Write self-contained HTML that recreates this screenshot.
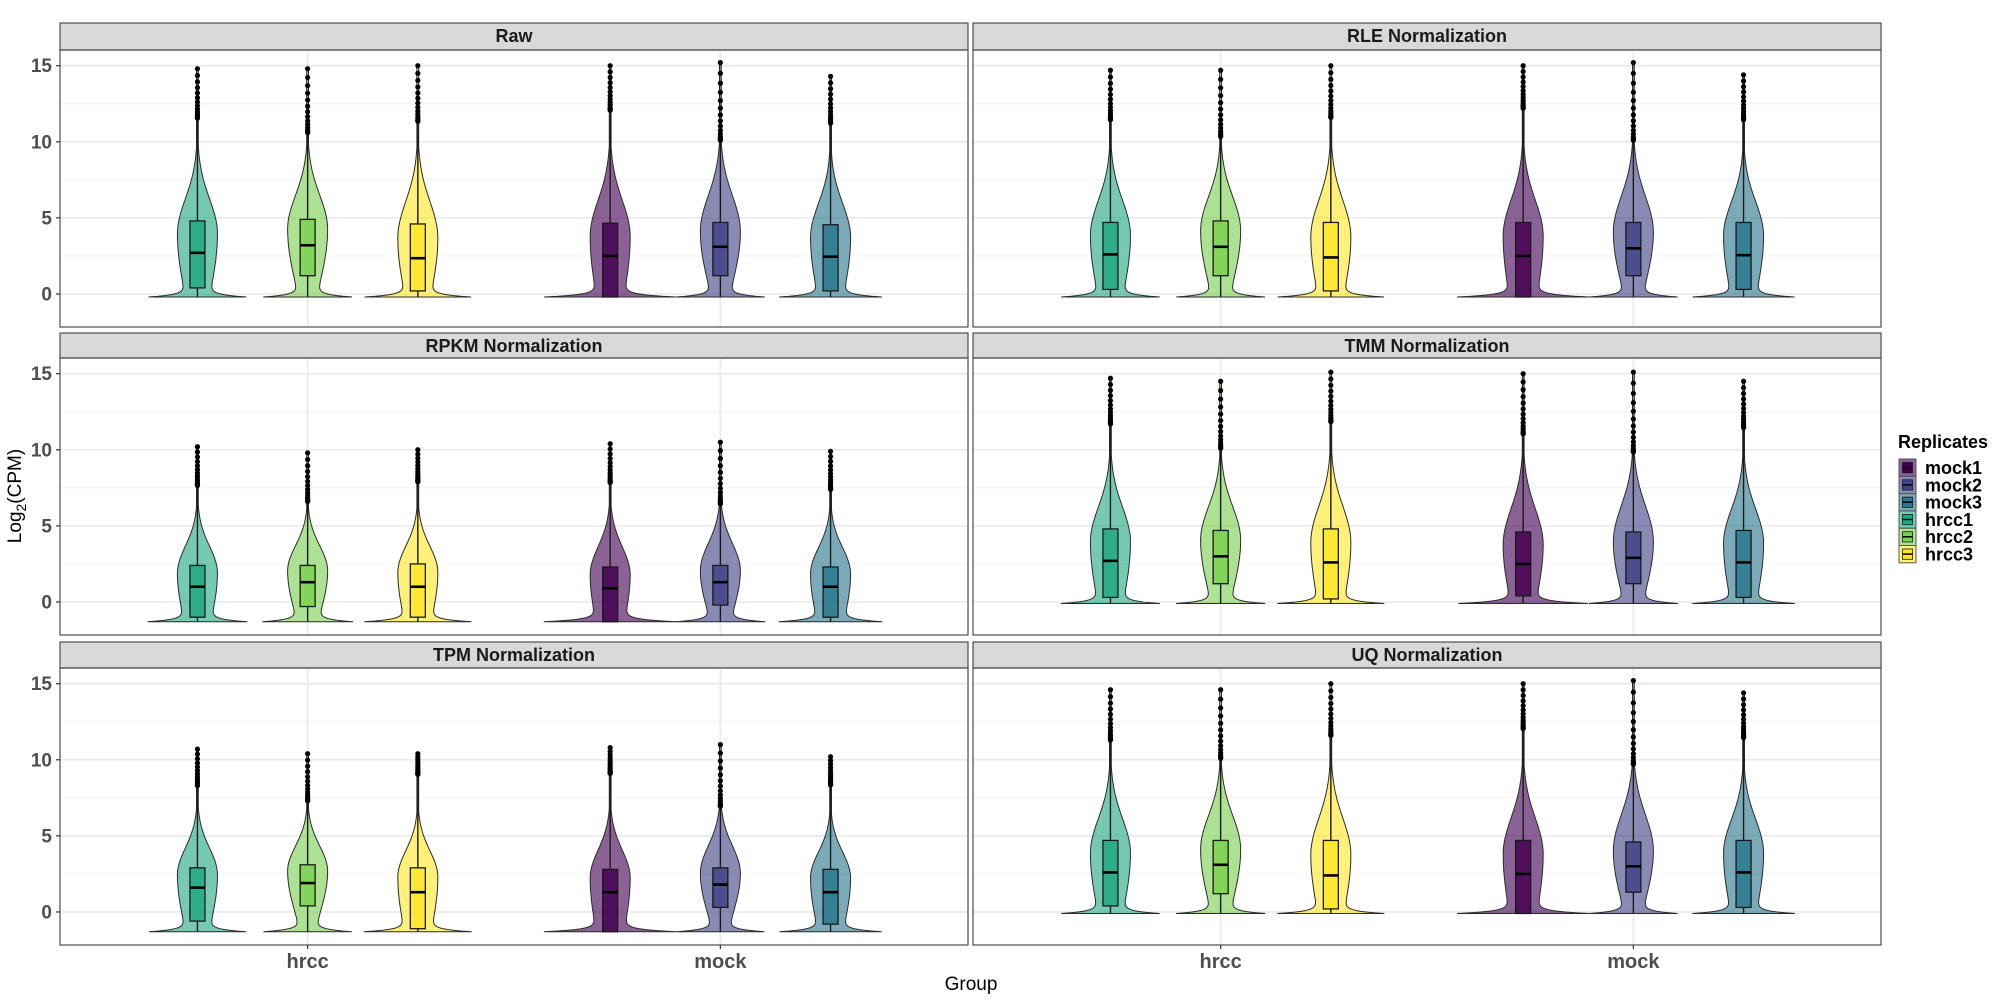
<!DOCTYPE html>
<html><head><meta charset="utf-8"><style>
html,body{margin:0;padding:0;background:#fff;}
svg{display:block;font-family:"Liberation Sans",sans-serif;}
</style></head><body>
<svg id="chart" width="2000" height="1000" viewBox="0 0 2000 1000"></svg>
<script>
// ---- data ----
const panelTitles = ["Raw","RLE Normalization","RPKM Normalization","TMM Normalization","TPM Normalization","UQ Normalization"];
const groups = ["hrcc","mock"];
const replicates = ["hrcc1","hrcc2","hrcc3","mock1","mock2","mock3"];
const repGroup = [0,0,0,1,1,1];
const repOffset = [-0.267,0,0.267,-0.267,0,0.267];
const legendOrder = ["mock1","mock2","mock3","hrcc1","hrcc2","hrcc3"];
const colors = {mock1:"#440154",mock2:"#414487",mock3:"#2A788E",hrcc1:"#22A884",hrcc2:"#7AD151",hrcc3:"#FDE725"};
const yTicks = [0,5,10,15];
const yMinor = [2.5,7.5,12.5];
// per panel floor value (min)
const floors = [-0.2,-0.2,-1.3,-0.1,-1.3,-0.1];
// per panel, per replicate: q1, median, q3, max
const q1 = [
 [0.4,1.2,0.2,-0.2,1.2,0.2],
 [0.3,1.2,0.2,-0.2,1.2,0.3],
 [-1.0,-0.3,-1.0,-1.3,-0.2,-1.0],
 [0.3,1.2,0.2,0.4,1.2,0.3],
 [-0.6,0.4,-1.1,-1.3,0.3,-0.8],
 [0.4,1.2,0.2,-0.1,1.3,0.3]];
const med = [
 [2.7,3.2,2.35,2.5,3.1,2.45],
 [2.6,3.1,2.4,2.5,3.0,2.55],
 [1.0,1.3,1.0,0.9,1.3,1.0],
 [2.7,3.0,2.6,2.5,2.9,2.6],
 [1.6,1.9,1.3,1.3,1.8,1.3],
 [2.6,3.1,2.4,2.5,3.0,2.6]];
const q3 = [
 [4.8,4.9,4.6,4.65,4.7,4.55],
 [4.7,4.8,4.7,4.7,4.7,4.7],
 [2.4,2.4,2.5,2.3,2.4,2.3],
 [4.8,4.7,4.8,4.6,4.6,4.7],
 [2.9,3.1,2.9,2.8,2.9,2.8],
 [4.7,4.7,4.7,4.7,4.6,4.7]];
const maxv = [
 [14.8,14.8,15.0,15.0,15.2,14.3],
 [14.7,14.7,15.0,15.0,15.2,14.4],
 [10.2,9.8,10.0,10.4,10.5,9.9],
 [14.7,14.5,15.1,15.0,15.1,14.5],
 [10.7,10.4,10.4,10.8,11.0,10.2],
 [14.6,14.6,15.0,15.0,15.2,14.4]];
// relative weight of the spike of values at the floor
const spike = [
 [1.0,0.95,1.1,1.42,0.95,1.05],
 [1.0,0.95,1.1,1.42,0.95,1.05],
 [1.0,0.95,1.1,1.42,0.95,1.05],
 [1.0,0.95,1.1,1.42,0.95,1.05],
 [1.0,0.95,1.1,1.42,0.95,1.05],
 [1.0,0.95,1.1,1.42,0.95,1.05]];

// ---- layout ----
const NS="http://www.w3.org/2000/svg";
const svg=document.getElementById('chart');
const colX=[[60,968],[973,1881]];
const rowStrip=[23,333,642], rowTop=[50,358,668], rowBot=[327,635,945];
const yLo=-2.17, yHi=16.03, xLo=0.4, xHi=2.6;
function mk(tag,attrs,parent){const e=document.createElementNS(NS,tag);for(const k in attrs)e.setAttribute(k,attrs[k]);(parent||svg).appendChild(e);return e;}
function yS(v,r){return rowBot[r]-(v-yLo)/(yHi-yLo)*(rowBot[r]-rowTop[r]);}
function xS(v,c){return colX[c][0]+(v-xLo)/(xHi-xLo)*(colX[c][1]-colX[c][0]);}

for(let p=0;p<6;p++){
  const r=Math.floor(p/2), c=p%2;
  const x0=colX[c][0], x1=colX[c][1];
  const g=mk('g',{});
  
  
  const st=mk('rect',{x:x0,y:rowStrip[r],width:x1-x0,height:rowTop[r]-rowStrip[r],fill:'#d9d9d9',stroke:'#4d4d4d','stroke-width':1.2},g);
  
  
  const stt=mk('text',{x:(x0+x1)/2,y:rowStrip[r]+19,'text-anchor':'middle','font-size':18,'font-weight':'bold',fill:'#1a1a1a'},g);
  stt.textContent=panelTitles[p];
  
  
  yMinor.forEach(v=>{mk('line',{x1:x0,x2:x1,y1:yS(v,r),y2:yS(v,r),stroke:'#f4f4f4','stroke-width':1.2},g);});
  yTicks.forEach(v=>{const l=mk('line',{x1:x0,x2:x1,y1:yS(v,r),y2:yS(v,r),stroke:'#ebebeb','stroke-width':1.8},g);
    });
  groups.forEach((gname,gi)=>{mk('line',{x1:xS(gi+1,c),x2:xS(gi+1,c),y1:rowTop[r],y2:rowBot[r],stroke:'#ebebeb','stroke-width':1.8},g);});
  for(let i=0;i<6;i++){
    const rep=replicates[i], col=colors[rep];
    const cx=xS(repGroup[i]+1+repOffset[i],c);
    const fl=floors[p], a=q1[p][i], m=med[p][i], b=q3[p][i], mx=maxv[p][i], sp=spike[p][i];
    const peak=(m+b)/2+0.2, sUp=(mx-peak)*0.3, sLow=(peak-a)*1.4+0.8;
    const B=20, W=37;
    const hw=v=>{
      let body = v>=peak ? Math.exp(-Math.pow((v-peak)/sUp,2)) : Math.max(Math.exp(-Math.pow((v-peak)/sLow,2)),0.45);
      let w=B*body + W*sp*Math.exp(-(v-fl)/0.16);
      return Math.max(w,0.9);
    };
    const pts=[];const vs=[];
    for(let v=fl;v<=mx;v+=0.05)vs.push(v);vs.push(mx);
    vs.forEach(v=>pts.push([cx+hw(v),yS(v,r)]));
    for(let k=vs.length-1;k>=0;k--)pts.push([cx-hw(vs[k]),yS(vs[k],r)]);
    const vg=mk('g',{},g);
    
    
    const vp=mk('path',{d:'M'+pts.map(q=>q[0].toFixed(1)+','+q[1].toFixed(1)).join('L')+'Z',fill:col,'fill-opacity':0.62,stroke:'#2b2b2b','stroke-width':1},vg);
    
    
    const iqr=b-a, wTop=Math.min(mx,b+1.5*iqr);
    mk('line',{x1:cx,x2:cx,y1:yS(wTop,r),y2:yS(b,r),stroke:'#1a1a1a','stroke-width':1.4},vg);
    mk('line',{x1:cx,x2:cx,y1:yS(a,r),y2:yS(fl,r),stroke:'#1a1a1a','stroke-width':1.4},vg);
    const bx=mk('rect',{x:cx-7.5,y:yS(b,r),width:15,height:yS(a,r)-yS(b,r),fill:col,'fill-opacity':0.85,stroke:'#1a1a1a','stroke-width':1.3},vg);
    
    
    mk('line',{x1:cx-7.5,x2:cx+7.5,y1:yS(m,r),y2:yS(m,r),stroke:'#000','stroke-width':2.6},vg);
    if(mx>wTop){for(let t=0;t<=1.0001;t+=1/14){const v=wTop+0.15+(mx-wTop-0.15)*t*t;
      mk('circle',{cx:cx,cy:yS(v,r),r:2.6,fill:'#000'},vg);}}
  }
  const br=mk('rect',{x:x0,y:rowTop[r],width:x1-x0,height:rowBot[r]-rowTop[r],fill:'none',stroke:'#4d4d4d','stroke-width':1.2},g);
  
  
  if(c===0){yTicks.forEach(v=>{
    mk('line',{x1:x0-4,x2:x0,y1:yS(v,r),y2:yS(v,r),stroke:'#333','stroke-width':1.2},g);
    const t=mk('text',{x:x0-8,y:yS(v,r)+6.5,'text-anchor':'end','font-size':19,'font-weight':'bold',fill:'#4d4d4d'},g);
    t.textContent=v;
    
    
  });}
  if(r===2){groups.forEach((gname,gi)=>{
    const xx=xS(gi+1,c);
    mk('line',{x1:xx,x2:xx,y1:rowBot[r],y2:rowBot[r]+4,stroke:'#333','stroke-width':1.2},g);
    const t=mk('text',{x:xx,y:rowBot[r]+23,'text-anchor':'middle','font-size':20,'font-weight':'bold',fill:'#4d4d4d'},g);
    t.textContent=gname;
    
    
  });}
}
const yt=mk('text',{x:0,y:0,transform:'translate(21,496) rotate(-90)','text-anchor':'middle','font-size':19,fill:'#000'});
yt.innerHTML='Log<tspan font-size="14" dy="5">2</tspan><tspan dy="-5">(CPM)</tspan>';


const xt=mk('text',{x:971,y:990,'text-anchor':'middle','font-size':19,fill:'#000'});
xt.textContent='Group';


const lg=mk('g',{});


const lt=mk('text',{x:1898,y:448,'font-size':18,'font-weight':'bold',fill:'#000'},lg);
lt.textContent='Replicates';


legendOrder.forEach((rep,i)=>{
  const y=459+i*17.3;
  const e=mk('g',{},lg);
  
  
  mk('rect',{x:1899,y:y,width:17,height:17.3,fill:colors[rep],'fill-opacity':0.62,stroke:'#555','stroke-width':1},e);
  mk('rect',{x:1902.5,y:y+3.5,width:10,height:10.3,fill:colors[rep],stroke:'#1a1a1a','stroke-width':0.8},e);
  mk('line',{x1:1902.5,x2:1912.5,y1:y+8.6,y2:y+8.6,stroke:'#000','stroke-width':1.5},e);
  const t=mk('text',{x:1925,y:y+15,'font-size':18,'font-weight':'bold',fill:'#000'},e);
  t.textContent=rep;
});
</script>
</body></html>
